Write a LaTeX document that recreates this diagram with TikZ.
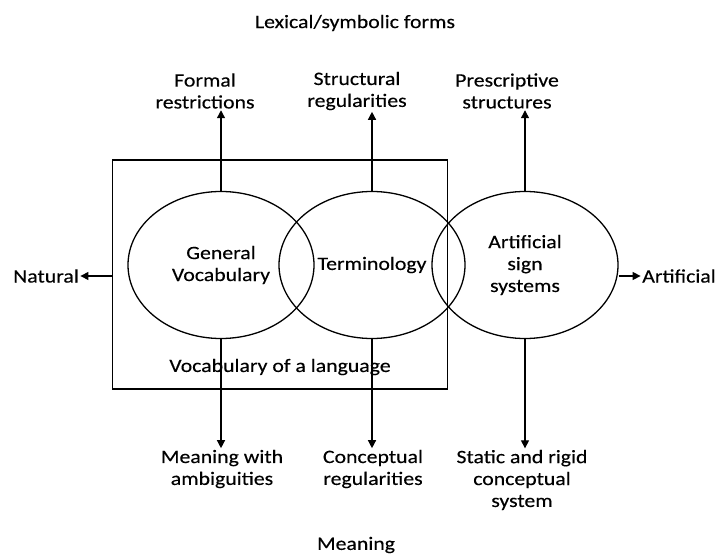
\documentclass[tikz,border=0pt]{standalone}
\usepackage{fontspec}
\setmainfont{Carlito}[FakeStretch=1.15, FakeBold=0.3]
\usetikzlibrary{shapes.geometric,arrows.meta}

\begin{document}
\begin{tikzpicture}[x=1bp, y=-1bp, line width=1.3bp,
    every node/.style={font=\fontsize{19}{22}\selectfont, align=center, inner sep=1bp},
    arr/.style={-{Triangle[length=8bp,width=8bp]}},
    set/.style={draw, ellipse, minimum width=186bp, minimum height=147bp}]

    \useasboundingbox (0,0) rectangle (718,556);

    % Vocabulary of a language
    \node[draw, minimum width=335bp, minimum height=229bp] (vocab) at (280,274.5) {};
    \node (voclabel) at (280,367) {Vocabulary of a language};

    % Sets
    \node[set] (gv) at (221,265) {General\\Vocabulary};
    \node[set] (term) at (372,265) {Terminology};
    \node[set] (ass) at (525,265) {Artificial\\sign\\systems};

    % Lexical/symbolic forms
    \node (title) at (355,23) {Lexical/symbolic forms};
    \node (formal) at (205,91) {Formal\\restrictions};
    \node (struct) at (357,91) {Structural\\regularities};
    \node (presc) at (507,91) {Prescriptive\\structures};

    % Meaning
    \node (ambig) at (222,469) {Meaning with\\ambiguities};
    \node (concept) at (373,469) {Conceptual\\regularities};
    \node (static) at (522,480) {Static and rigid\\conceptual\\system};
    \node (meaning) at (356,545) {Meaning};

    % Natural vs. artificial
    \node (natural) at (46,276) {Natural};
    \node (artif) at (679,276) {Artificial};

    % Arrows up
    \draw[arr] (gv.north) -- (gv.north |- formal.south);
    \draw[arr] (term.north) -- (term.north |- struct.south);
    \draw[arr] (ass.north) -- (ass.north |- presc.south);

    % Arrows down
    \draw[arr] (gv.south) -- (gv.south |- ambig.north);
    \draw[arr] (term.south) -- (term.south |- concept.north);
    \draw[arr] (ass.south) -- (ass.south |- static.north);

    % Arrows sideways
    \draw[arr] (natural.east -| vocab.west) -- (natural.east);
    \draw[arr] (artif.west -| ass.east) -- (artif.west);

\end{tikzpicture}
\end{document}
